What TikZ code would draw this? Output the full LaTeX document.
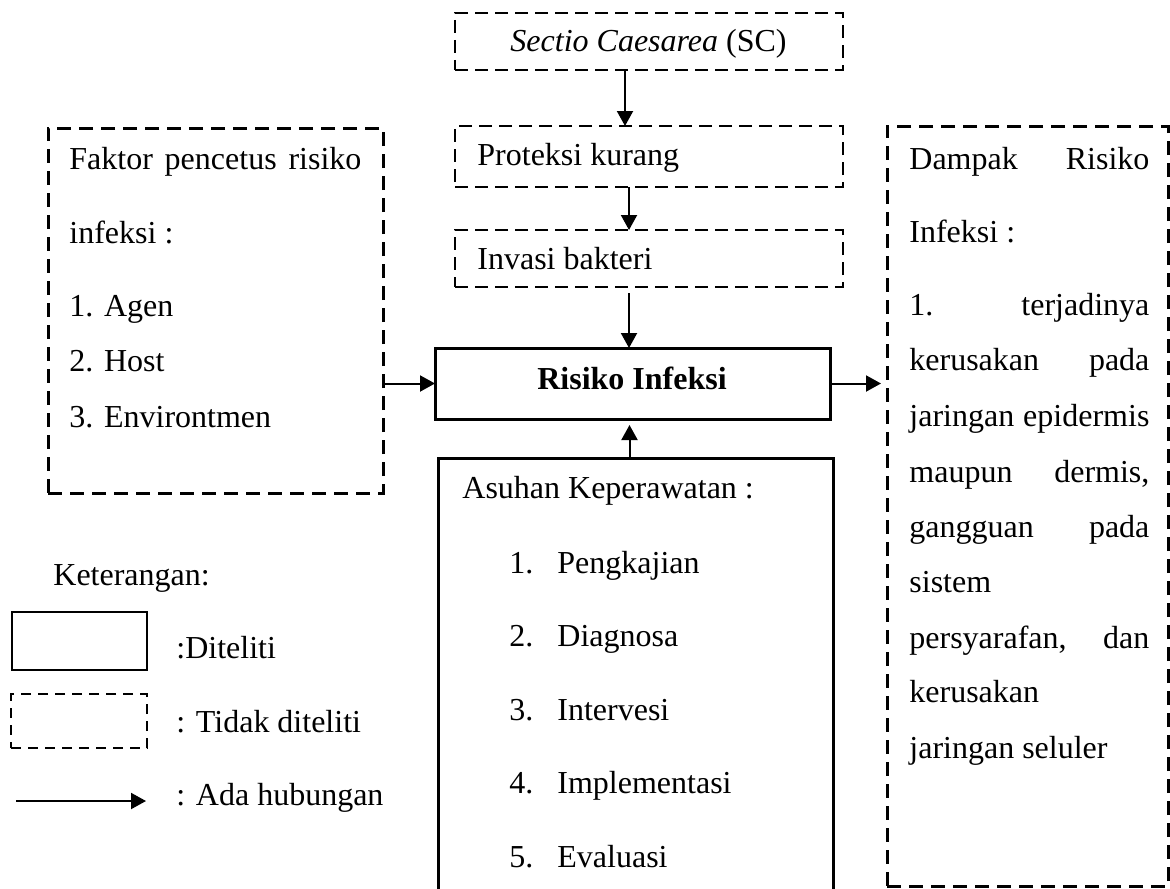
\documentclass[tikz,border=0pt]{standalone}
\usepackage{fontspec}
\setmainfont{Liberation Serif}
\usetikzlibrary{arrows.meta}

\tikzset{
  kotak/.style={draw, line width=1.5pt, inner sep=0pt, outer sep=0pt},
  putus/.style={draw, line width=1pt, dash pattern=on 6.5pt off 3.5pt, inner sep=0pt, outer sep=0pt},
  putustebal/.style={draw, line width=1.5pt, dash pattern=on 7pt off 4pt, inner sep=0pt, outer sep=0pt},
  panah/.style={-{Triangle[length=7.5pt,width=8pt]}, line width=1pt},
  teks/.style={inner sep=0pt, anchor=base west, font=\fontsize{16}{19}\selectfont}
}

\begin{document}
\begin{tikzpicture}[x=0.5pt,y=-0.5pt]
\useasboundingbox (0,0) rectangle (1170,888);
\clip (0,0) rectangle (1170,888);

% kotak
\node[putus, minimum width=194pt, minimum height=28.5pt] (sc) at (649,41.5) {};
\node[putus, minimum width=194pt, minimum height=30.5pt] (proteksi) at (649,156.5) {};
\node[putus, minimum width=194pt, minimum height=28.5pt] (invasi) at (649,258.5) {};
\node[kotak, minimum width=197.5pt, minimum height=35.5pt] (risiko) at (632.5,383.5) {};
\node[kotak, minimum width=197.5pt, minimum height=221pt] (asuhan) at (635.5,679) {};
\node[putustebal, minimum width=167.5pt, minimum height=182.5pt] (faktor) at (215.5,310.5) {};
\node[putustebal, minimum width=140.5pt, minimum height=380pt] (dampak) at (1027.5,506) {};

% teks
\node[teks, anchor=base] (tsc) at (648.5,52) {\textit{Sectio Caesarea} (SC)};
\node[teks] (tproteksi) at (477,165) {Proteksi kurang};
\node[teks] (tinvasi) at (477,269) {Invasi bakteri};
\node[teks, anchor=base, font=\fontsize{16}{19}\selectfont\bfseries] (trisiko) at (632,389) {Risiko Infeksi};
\node[teks] (tasuhan) at (462,498) {Asuhan Keperawatan :};
\foreach \y/\isi [count=\i] in {573/Pengkajian, 646/Diagnosa, 720/Intervesi, 793/Implementasi, 867/Evaluasi}{
  \node[teks] (no\i) at (509,\y) {\i.};
  \node[teks] (tasuhan\i) at (557,\y) {\isi};
}
\foreach \y/\isi [count=\i] in {169/{\makebox[146pt]{Faktor\hfill pencetus\hfill risiko}}, 243/{infeksi :}, 316/{1. Agen}, 371/{2. Host}, 427/{3. Environtmen}}
  \node[teks] (tfaktor\i) at (69,\y) {\isi};
\foreach \y/\isi [count=\i] in {169/{\makebox[120pt]{Dampak\hfill Risiko}}, 242/{Infeksi :}, 315/{\makebox[120pt]{1.\hfill terjadinya}}, 370/{\makebox[120pt]{kerusakan\hfill pada}}, 426/{\makebox[120pt]{jaringan\hfill epidermis}}, 482/{\makebox[120pt]{maupun\hfill dermis,}}, 537/{\makebox[120pt]{gangguan\hfill pada}}, 592/{sistem}, 648/{\makebox[120pt]{persyarafan,\hfill dan}}, 702/{kerusakan}, 758/{jaringan seluler}}
  \node[teks] (tdampak\i) at (909,\y) {\isi};

% panah
\draw[panah] ([xshift=-12pt]sc.south) -- ([xshift=-12pt]proteksi.north);
\draw[panah] ([xshift=-10pt]proteksi.south) -- ([xshift=-10pt]invasi.north);
\draw[panah] ([xshift=-10pt,yshift=-3pt]invasi.south) -- ([xshift=-10pt]invasi.south |- risiko.north);
\draw[panah] ([xshift=-3pt]asuhan.north) -- ([xshift=-3pt,yshift=-3pt]asuhan.north |- risiko.south);
\draw[panah] (faktor.east |- risiko.west) -- (risiko.west);
\draw[panah, shorten >=3pt] (risiko.east) -- (risiko.east -| dampak.west);

% keterangan
\node[teks] (ket) at (53,585) {Keterangan:};
\node[draw, line width=1.2pt, minimum width=67.5pt, minimum height=29pt, inner sep=0pt] (legditeliti) at (79.5,641) {};
\node[putus, minimum width=68pt, minimum height=27pt, dash pattern=on 5pt off 3.5pt] (legtidak) at (79,721) {};
\coordinate (legka) at (16,801);
\coordinate (legkb) at (146,801);
\draw[panah] (legka) -- (legkb);
\node[teks] (tditeliti) at (176,658) {:Diteliti};
\node[teks] (ttidak) at (176,732) {: Tidak diteliti};
\node[teks] (tada) at (176,805) {: Ada hubungan};
\end{tikzpicture}
\end{document}
